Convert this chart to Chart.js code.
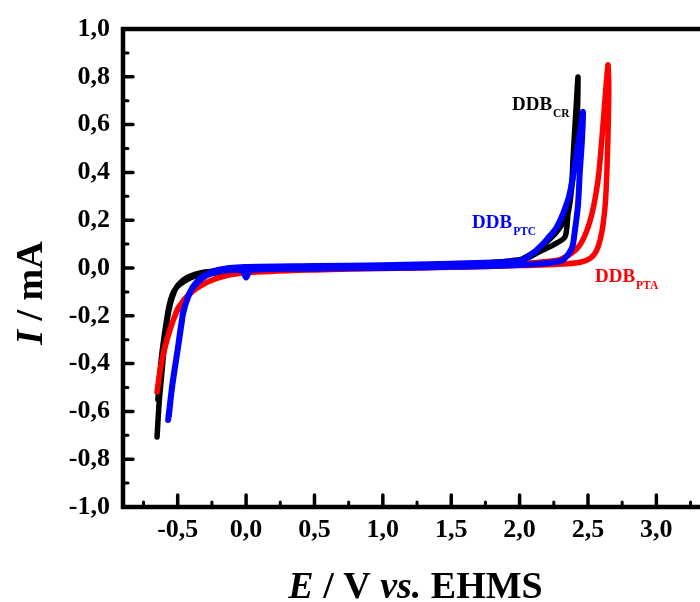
<!DOCTYPE html>
<html><head><meta charset="utf-8">
<script src="https://cdn.jsdelivr.net/npm/chart.js@4/dist/chart.umd.min.js"></script>
<style>html,body{margin:0;padding:0;background:#fff;overflow:hidden}#wrap{position:relative;width:700px;height:602px}</style>
</head><body><div id="wrap"><canvas id="c" width="700" height="602"></canvas></div>
<script>
// ---- data (E / V vs. EHMS, I / mA) ----
const E_CR = [-0.651,-0.636,-0.614,-0.592,-0.577,-0.556,-0.526,-0.497,-0.424,-0.300,-0.13,0.0,0.5,1.0,1.5,2.0,2.127,2.244,2.332,2.354,2.383,2.390,2.412,2.427,2.42,2.40,2.38,2.35,2.27,2.2,2.1,2.0,1.5,1.0,0.5,0.0,-0.2,-0.35,-0.45,-0.52,-0.56,-0.59,-0.62,-0.645];
const I_CR = [-0.707,-0.565,-0.427,-0.289,-0.218,-0.155,-0.100,-0.071,-0.038,-0.017,-0.008,-0.004,0.002,0.008,0.015,0.028,0.063,0.096,0.130,0.230,0.368,0.452,0.661,0.799,0.60,0.45,0.33,0.22,0.15,0.11,0.065,0.035,0.012,0.002,-0.004,-0.01,-0.02,-0.03,-0.055,-0.09,-0.15,-0.25,-0.38,-0.55];

const E_PTC = [-0.570,-0.541,-0.504,-0.468,-0.461,-0.395,-0.322,-0.205,-0.007,0.5,1.0,1.5,2.0,2.098,2.149,2.2,2.273,2.354,2.39,2.42,2.445,2.463,2.456,2.44,2.427,2.405,2.383,2.317,2.222,2.0,1.5,1.0,0.5,0.03,0.0,-0.03,-0.2,-0.3,-0.4,-0.46,-0.5,-0.54,-0.565];
const I_PTC = [-0.636,-0.498,-0.356,-0.218,-0.184,-0.084,-0.038,-0.008,0.004,0.008,0.012,0.018,0.03,0.062,0.088,0.12,0.172,0.285,0.38,0.494,0.58,0.653,0.536,0.40,0.264,0.16,0.084,0.033,0.022,0.013,0.005,0.0,-0.003,-0.008,-0.04,-0.01,-0.015,-0.035,-0.09,-0.19,-0.34,-0.49,-0.62];

const E_PTA = [-0.651,-0.629,-0.592,-0.556,-0.497,-0.395,-0.249,-0.058,0.117,0.5,1.0,1.5,2.0,2.222,2.30,2.40,2.46,2.50,2.53,2.555,2.58,2.61,2.646,2.652,2.646,2.638,2.628,2.612,2.59,2.56,2.52,2.45,2.35,2.0,1.5,1.0,0.5,0.0,-0.2,-0.35,-0.45,-0.52,-0.58,-0.62,-0.648];
const I_PTA = [-0.519,-0.427,-0.331,-0.259,-0.167,-0.100,-0.050,-0.021,-0.008,0.0,0.005,0.01,0.018,0.028,0.036,0.07,0.115,0.17,0.23,0.30,0.40,0.60,0.849,0.745,0.55,0.40,0.28,0.19,0.12,0.07,0.042,0.025,0.018,0.01,0.003,-0.002,-0.008,-0.02,-0.04,-0.08,-0.13,-0.2,-0.3,-0.4,-0.51];

const xTicks = [-0.5,0,0.5,1,1.5,2,2.5,3];
const xMinor = [-0.75,-0.25,0.25,0.75,1.25,1.75,2.25,2.75,3.25];
const yTicks = [-1,-0.8,-0.6,-0.4,-0.2,0,0.2,0.4,0.6,0.8,1];
const yMinor = [-0.9,-0.7,-0.5,-0.3,-0.1,0.1,0.3,0.5,0.7,0.9];

const seriesNames = ['DDB_PTC','DDB_PTA','DDB_CR'];
const labelMain = ['DDB','DDB','DDB'];
const labelSub  = ['PTC','PTA','CR'];
const labelE = [1.652, 2.551, 1.944];
const labelI = [0.167, -0.059, 0.661];
const colors = ['#0000ff','#ff0000','#000000'];

const pts = (xs, ys) => xs.map((x,i)=>({x, y: ys[i]}));
const fmt = v => (Math.round(v*10)/10).toFixed(1).replace('.', ',');
const SERIF = '"Liberation Serif","Times New Roman",serif';

const frame = {
  id:'frame',
  afterDraw(chart){
    const {ctx, chartArea:ca, scales:{x, y}} = chart;
    ctx.save();
    ctx.strokeStyle = '#000';
    ctx.lineCap = 'square';
    ctx.lineWidth = 4.5;
    ctx.beginPath();
    ctx.moveTo(ca.left, ca.top); ctx.lineTo(ca.right+5, ca.top);
    ctx.moveTo(ca.left, ca.top); ctx.lineTo(ca.left, ca.bottom);
    ctx.lineTo(ca.right+5, ca.bottom);
    ctx.stroke();
    ctx.lineCap = 'round';
    ctx.lineWidth = 3.5;
    ctx.beginPath();
    yTicks.forEach(v=>{const p=y.getPixelForValue(v); ctx.moveTo(ca.left,p); ctx.lineTo(ca.left+10,p);});
    xTicks.forEach(v=>{const p=x.getPixelForValue(v); ctx.moveTo(p,ca.bottom); ctx.lineTo(p,ca.bottom-12);});
    ctx.stroke();
    ctx.lineWidth = 3;
    ctx.beginPath();
    yMinor.forEach(v=>{const p=y.getPixelForValue(v); ctx.moveTo(ca.left,p); ctx.lineTo(ca.left+5,p);});
    xMinor.forEach(v=>{const p=x.getPixelForValue(v); if(p<ca.right){ctx.moveTo(p,ca.bottom); ctx.lineTo(p,ca.bottom-5);}});
    ctx.stroke();

    // annotations
    ctx.textAlign='left'; ctx.textBaseline='alphabetic';
    for(let i=0;i<labelMain.length;i++){
      const px=x.getPixelForValue(labelE[i]), py=y.getPixelForValue(labelI[i]);
      ctx.fillStyle=colors[i];
      ctx.font='bold 19px '+SERIF;
      ctx.fillText(labelMain[i],px,py);
      const w=ctx.measureText(labelMain[i]).width;
      ctx.font='bold 11.5px '+SERIF;
      ctx.fillText(labelSub[i],px+w+1,py+7);
    }

    // axis titles
    const rich=(parts,cx,cy)=>{
      let tot=0; parts.forEach(p=>{ctx.font=p.f; p.w=ctx.measureText(p.t).width; tot+=p.w;});
      let xx=cx-tot/2;
      parts.forEach(p=>{ctx.font=p.f; ctx.fillText(p.t,xx,cy); xx+=p.w;});
    };
    ctx.fillStyle='#000';
    const B='bold 38px '+SERIF, BI='italic bold 38px '+SERIF;
    rich([{t:'E',f:BI},{t:' / V ',f:B},{t:'vs.',f:BI},{t:' EHMS',f:B}], (ca.left+ca.right)/2+4, 598);
    ctx.save();
    ctx.translate(42, (ca.top+ca.bottom)/2+25);
    ctx.rotate(-Math.PI/2);
    rich([{t:'I',f:BI},{t:' / mA',f:B}],0,0);
    ctx.restore();
    ctx.restore();
  }
};

const tickFont = {family: SERIF, size: 26, weight: 'bold'};
new Chart(document.getElementById('c'), {
  type:'scatter',
  data:{datasets:[
    {label:seriesNames[0], data:pts(E_PTC,I_PTC), borderColor:colors[0], borderWidth:6},
    {label:seriesNames[1], data:pts(E_PTA,I_PTA), borderColor:colors[1], borderWidth:5.5},
    {label:seriesNames[2], data:pts(E_CR,I_CR), borderColor:colors[2], borderWidth:5.5}
  ].map(d=>Object.assign(d,{showLine:true,pointRadius:0,tension:0.25,borderCapStyle:'round',borderJoinStyle:'round',fill:false}))},
  options:{
    responsive:false, animation:false, devicePixelRatio:1,
    layout:{padding:{top:29,right:0,left:0,bottom:0}},
    plugins:{legend:{display:false}, tooltip:{enabled:false}},
    scales:{
      x:{type:'linear', min:-0.9, max:3.319,
         afterBuildTicks:s=>{s.ticks=xTicks.map(v=>({value:v}));},
         afterFit:s=>{s.height=95;},
         grid:{display:false, drawTicks:false}, border:{display:false},
         ticks:{font:tickFont, color:'#000', padding:8, maxRotation:0, autoSkip:false, callback:v=>fmt(v)}},
      y:{type:'linear', min:-1, max:1,
         afterBuildTicks:s=>{s.ticks=yTicks.map(v=>({value:v}));},
         afterFit:s=>{s.width=123;},
         grid:{display:false, drawTicks:false}, border:{display:false},
         ticks:{font:tickFont, color:'#000', padding:13, autoSkip:false, callback:v=>fmt(v)}}
    }
  },
  plugins:[frame]
});
</script></body></html>
